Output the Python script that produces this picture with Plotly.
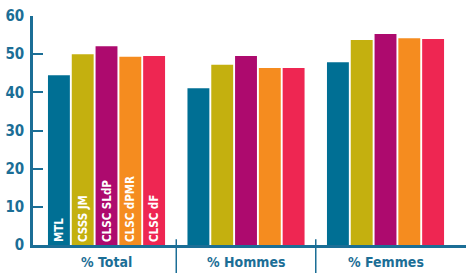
import plotly.graph_objects as go

categories = ["% Total", "% Hommes", "% Femmes"]
series_names = ["MTL", "CSSS JM", "CLSC SLdP", "CLSC dPMR", "CLSC dF"]
mtl = [44.5, 41.1, 47.9]
csss_jm = [50.0, 47.2, 53.7]
clsc_sldp = [52.1, 49.5, 55.3]
clsc_dpmr = [49.3, 46.4, 54.2]
clsc_df = [49.5, 46.4, 54.0]
colors = ["#006F94", "#C4B00F", "#AD0A6E", "#F58C1F", "#EE2652"]
y_ticks = [0, 10, 20, 30, 40, 50, 60]

values = [mtl, csss_jm, clsc_sldp, clsc_dpmr, clsc_df]
axis_color = "#1B6E96"
FONT = "Liberation Sans Narrow, DejaVu Sans Condensed, sans-serif"

fig = go.Figure()
xpos = list(range(len(categories)))
for name, vals, col in zip(series_names, values, colors):
    fig.add_trace(go.Bar(
        x=xpos, y=vals, name=name, marker_color=col, marker_line_width=0,
        text=[f"<b>{name}</b>", "", ""],
        textposition="inside", insidetextanchor="start", textangle=-90,
        insidetextfont=dict(color="white", size=11.5, family=FONT),
        constraintext="none", cliponaxis=False,
    ))

for i in range(len(categories) - 1):
    fig.add_shape(type="line", xref="x", yref="paper", x0=i + 0.5, x1=i + 0.5,
                  y0=-0.13, y1=0.025, line=dict(color=axis_color, width=1.5))

for i, c in enumerate(categories):
    fig.add_annotation(x=i, xref="x", y=-0.075, yref="paper", text=f"<b>{c}</b>",
                       showarrow=False, yanchor="middle",
                       font=dict(color=axis_color, size=14, family=FONT))

fig.update_layout(
    width=466, height=273, margin=dict(l=33, r=0, t=16, b=28, autoexpand=False),
    plot_bgcolor="white", paper_bgcolor="white",
    barmode="group", bargap=0.147, bargroupgap=0.08, showlegend=False,
    font=dict(family=FONT, color=axis_color),
)
fig.update_xaxes(range=[-0.527, 2.577], showticklabels=False, ticks="",
                 showline=True, linecolor=axis_color, linewidth=2.5, showgrid=False,
                 zeroline=False, automargin=False)
fig.update_yaxes(range=[0, 60], tickvals=y_ticks, ticktext=[f"<b>{v}</b>" for v in y_ticks],
                 ticks="inside", ticklen=10, tickwidth=2, tickcolor=axis_color,
                 showline=True, linecolor=axis_color, linewidth=2.5, showgrid=False,
                 zeroline=False, tickfont=dict(size=15, color=axis_color, family=FONT),
                 ticklabelstandoff=3, automargin=False)
fig.write_html("out.html", config={"displayModeBar": False},
               post_script="document.body.style.margin='0';document.body.style.overflow='hidden';")
